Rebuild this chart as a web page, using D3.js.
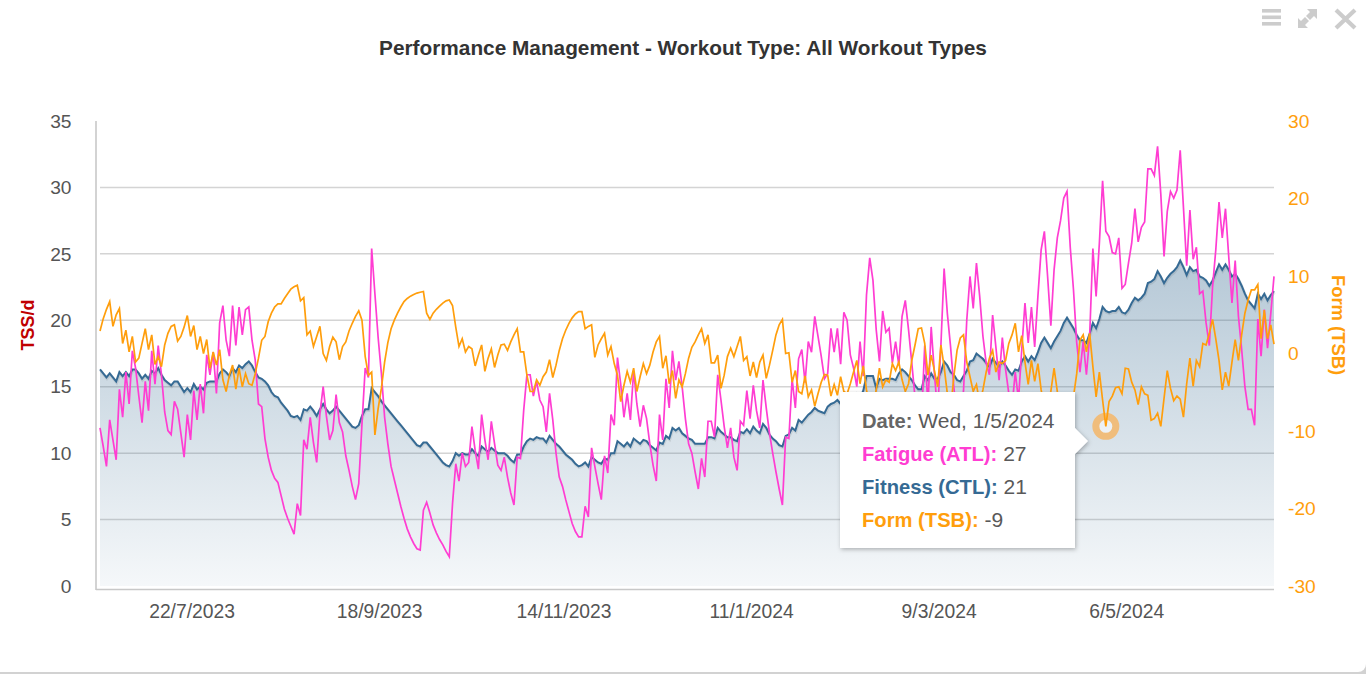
<!DOCTYPE html>
<html>
<head>
<meta charset="utf-8">
<title>Performance Management</title>
<script src="https://cdnjs.cloudflare.com/ajax/libs/d3/7.8.5/d3.min.js"></script>
<style>
  html, body { margin: 0; padding: 0; background: #d2d2d2; overflow: hidden; }
  svg { display: block; font-family: "Liberation Sans", Arial, sans-serif; }
  .domain { display: none; }
  .tick line { display: none; }
</style>
</head>
<body>
<div id="chart"></div>
<script>
// values, one per day
var firstDay = new Date(2023, 5, 24);
var tickDates = [[2023, 6, 22], [2023, 8, 18], [2023, 10, 14], [2024, 0, 11], [2024, 2, 9], [2024, 4, 6]];
var tssTicks = [0, 5, 10, 15, 20, 25, 30, 35];
var formTicks = [-30, -20, -10, 0, 10, 20, 30];

var fatigue = [
  11.9,10.5,9.0,12.5,11,9.5,14.8,12.7,16.1,13.7,
  17.7,16.4,14.3,12.3,15.4,13.2,17.7,15.2,18.1,15.9,
  13.1,11.7,11.4,13.9,13.3,11.5,9.7,12.9,11.0,14.7,
  12.5,15.2,13,17.4,15.9,17.6,14.5,19.8,21.1,18.5,
  17.3,21.1,18.1,21,18.9,20.8,21,18.5,17,13.7,
  13.5,11.1,9.7,8.7,8.1,7.8,6.8,5.8,5.1,4.5,
  3.9,6.2,5.3,11,10.3,12.7,10.8,9.3,13,15,
  12.8,11,11.7,14.4,12.3,11.6,9.8,8.7,7.5,6.5,
  7.7,12.2,16.4,15.7,25.4,22,18.7,16,12.7,10.7,
  9,8,7,6,5.1,4.3,3.7,3.2,2.8,2.7,
  5.7,6.3,5.5,4.6,4,3.5,3.1,2.6,2.2,6.2,
  9.2,7.9,10,9,9.3,12,10.2,8.8,12.9,11,
  9.5,12.4,10.7,9.1,8.7,9.7,8.2,7,6.1,9.7,
  9.6,13.2,15.9,15.9,14.3,15.4,14,13.5,11.6,14.5,
  12.5,10,8.2,7.5,6.5,5.6,4.7,4.1,3.7,3.7,
  6,5.2,10.4,9,7.7,6.5,9.8,8.5,12.9,12.1,
  17.2,15.2,12.7,14.5,12.5,16.2,13.7,12,13.6,12.6,
  10.7,9.1,7.9,12.9,11,15.6,13.4,17.7,15.5,16.9,
  15,12.6,10.7,10,8.6,7.3,9.6,8.2,12.4,12.4,
  11.2,15.9,14,12,10.4,11.9,9.7,8.7,12.4,12.1,
  14.7,12.6,15.1,13.2,11.9,15.5,13.4,11.5,10,8.6,
  7.3,6.1,11.2,11.1,15.6,13.4,17.1,17.8,15.3,18.4,
  17.6,20.3,18.8,17.3,15.6,16,19.4,17.6,19.4,16.7,
  20.6,20,17.4,16.4,15,18.4,15.8,21.9,24.7,23,
  19.3,16.9,20.7,19.1,19.4,16.8,18.4,16.6,20.3,21.5,
  19.3,16.8,14.2,12,12.5,18.1,13.5,19.5,16,13,
  18.1,23.9,20.5,18,15,12.5,12.5,14.7,20,23.3,
  20.9,24.3,21.8,18.8,16.8,15.9,20.4,18,15.5,18.7,
  16.3,14.5,13.5,16.1,14,17.8,21.3,18.3,21,18,
  21.8,25.3,26.7,23.3,19.6,23.8,26.2,27.5,29.2,29.7,
  25.5,22.3,18.3,16.1,18.4,15.9,18.8,25.4,21.8,25.8,
  30.5,26.7,26.3,25.1,25,26.2,22.4,22.7,24.3,25.8,
  28.4,25.9,27,27.4,31.4,31.4,30.9,33.1,29.5,24.8,
  28.2,29.7,29.2,29.8,32.8,28.5,24.1,28.3,24.6,25.5,
  22,22.2,19.8,18.1,22.5,25.3,28.9,26.2,28.4,24.8,
  21.3,24.5,20.3,17.8,15,13.3,13.3,12.1,20.1,17.3,
  20.8,17.9,20.5,23.3
];

var fitness = [
  16.3,16,15.7,16,15.7,15.4,16.1,15.8,16.1,15.8,
  16.3,16.3,16,15.6,15.9,15.6,16.2,16,16.4,15.9,
  15.5,15.3,15.1,15.4,15.4,15,14.6,14.9,14.6,15.2,
  14.8,15,14.8,15.3,15.4,15.4,15.4,16,16.3,16.1,
  15.8,16.4,16.1,16.6,16.4,16.7,16.9,16.6,16.1,15.7,
  15.6,15.4,15.1,14.6,14.3,14.2,13.8,13.5,13.2,12.8,
  12.7,12.8,12.5,13.3,13.2,13.5,13.2,12.8,13.3,13.7,
  13.3,13,13.2,13.5,13.2,12.9,12.6,12.3,12,11.9,
  12.1,12.8,13.3,13.3,14.9,14.6,14.3,13.9,13.6,13.3,
  13,12.7,12.4,12.1,11.8,11.5,11.2,10.9,10.6,10.5,
  10.8,10.8,10.5,10.2,9.9,9.6,9.3,9.1,9,9.4,
  10,9.8,10,9.9,9.9,10.3,10,9.8,10.5,10.3,
  10.1,10.4,10.2,10,10,10,9.8,9.5,9.3,9.9,
  9.9,10.5,10.9,11.1,11,11.2,11.1,11.1,10.8,11.3,
  11,10.7,10.5,10.2,9.9,9.7,9.5,9.2,9,9.1,
  9.3,9,9.7,9.5,9.3,9.2,9.6,9.5,10,10,
  10.9,10.7,10.5,10.8,10.5,11.1,10.9,10.7,11,10.9,
  10.6,10.4,10.2,10.8,10.7,11.3,11.1,11.9,11.7,11.9,
  11.5,11.3,11.1,11,10.7,10.7,10.7,10.7,11.2,11.2,
  11.1,11.9,11.6,11.4,11.2,11.2,11,10.9,11.6,11.5,
  11.8,11.5,12,11.7,11.5,12.2,11.9,11.4,11.1,10.9,
  10.6,10.5,11.3,11.4,11.9,11.7,12.5,12.3,12.6,12.9,
  13.1,13.4,13.2,13.1,13,13.5,13.7,13.8,14,13.7,
  14,14.1,13.9,14.2,14.5,14.2,14.7,15.8,15.8,15.8,
  14.9,15.6,15.5,15.6,15.6,15.6,15.5,16,16.3,16.1,
  15.8,15.5,15.1,14.8,14.8,15.8,15.5,16,15.6,15.6,
  16.1,16.9,16.6,16.1,15.9,15.5,15.4,15.8,16.2,16.9,
  17,17.5,17.3,17.1,16.8,16.5,17.1,16.8,16.5,16.9,
  16.6,16.2,15.9,16.3,16.2,16.9,17.3,16.9,17.3,17,
  17.6,18.3,18.7,18.3,17.9,18.4,18.8,19.2,19.8,20.2,
  19.8,19.4,18.9,18.5,18.5,18.3,19,19.8,19.4,20.1,
  21,20.7,20.6,20.7,20.7,21,20.6,20.5,20.8,21.3,
  21.7,21.5,21.7,22,22.8,22.9,23.1,23.7,23.3,22.8,
  23.2,23.5,23.7,24,24.5,24,23.4,24,23.7,23.8,
  23.3,23.2,23,22.6,23,23.6,24.2,23.8,24.2,23.8,
  23.3,23.5,23.1,22.6,22,21.5,21.2,20.9,22,21.6,
  22,21.5,21.9,22.2
];

var form = [
  2.9,4.5,5.7,6.7,3.5,5,5.8,1.3,3,0.2,
  2.2,-1.1,-0.6,1.3,3.2,0.5,2.4,-1.4,-0.4,-1.7,
  1.1,2.6,3.5,3.7,1.6,2.2,3.4,4.9,2.2,3.6,
  0.5,2.2,0,1.8,-1.9,0.2,-1.5,0.5,-3.4,-4.9,
  -2.8,-1.5,-4.6,-1.9,-4.3,-2.6,-3.9,-4.1,-2.6,-0.6,
  1.7,2.2,4.1,5.2,6,6.4,6.4,7.1,7.7,8.3,
  8.6,8.8,6.8,7.2,2.4,2.9,0.9,2.2,3.5,0,
  -0.9,0.9,2.1,1.5,-0.8,0.9,1.5,2.9,3.9,4.8,
  5.5,4.3,-0.4,-2.8,-2.4,-10.5,-7.1,-4.5,-1.1,1.4,
  3.2,4.3,5.2,6,6.7,7.1,7.4,7.6,7.8,7.9,
  8,5.2,4.4,5.2,5.7,6.1,6.5,6.8,6.9,6.2,
  3.4,0.9,1.9,0.2,0.9,0.6,-1.6,-0.2,1.1,-2.3,
  -0.6,0.6,-1.8,-0.2,1.1,1.2,0.4,1.5,2.4,3.2,
  0.2,0.2,-2.8,-4.9,-4.9,-3.4,-4.1,-3,-2.4,-0.8,
  -3.1,-1.5,0.4,1.9,3,3.9,4.6,5.1,5.4,5.4,
  3.2,3.5,3.7,-0.5,1.1,1.9,2.6,-0.2,0.9,-1.3,
  -2.8,-6.2,-4.1,-2.3,-3.7,-1.9,-4.9,-3,-1.3,-2.6,
  -1.5,0.2,1.5,2.2,-1.9,-0.3,-3.9,-2.2,-5.8,-3.4,
  -4.3,-2.6,-0.6,0.8,1.5,2.4,3.2,1.3,2.4,-1.2,
  -1.2,-0.2,-4.5,-2.8,-0.4,0.7,-0.4,0.9,2.2,-0.9,
  -0.4,-2.9,-1.1,-3.1,-1.1,-0.2,-3.2,-1.5,0.4,2.4,
  3.7,4.4,0,0.1,-3.7,-2.2,-4.9,-5.2,-2.9,-5.6,
  -4.7,-6.8,-5.2,-3.7,-2.7,-2.8,-5.5,-4,-5.4,-3,
  -4.9,-5.2,-3.9,-2.4,-0.9,-3.9,-1.6,-4.7,-6.9,-6.9,
  -4.7,-1.9,-4.3,-3.4,-3.7,-1.3,-2.2,-1.1,-3.4,-4.9,
  -3.9,-0.9,1.1,3.2,3.3,1.3,-2.8,-0.2,-2.2,-4.3,
  1.1,-1.7,-5.2,-7.3,-3,0.4,2,2.4,-1.1,-3,
  -4.9,-4,-6.4,-4.7,-2.4,-0.6,0.4,-2.4,-1.1,-1.3,
  -0.9,1.3,2.4,3.9,0.2,2.3,-1.1,-4,-0.9,-3.6,
  -1.3,-4.7,-6.9,-6.9,-4.9,-1.9,-4.9,-7.3,-8.6,-9.5,
  -8.2,-5.6,-2.6,1.7,2.4,0.2,2.6,-1.7,-5.6,-2.4,
  -6,-9.4,-6.2,-5.5,-4.4,-4.3,-5.2,-1.9,-2,-3.7,
  -4.7,-6.6,-4.3,-5.2,-5.4,-8.6,-8.4,-7.7,-9.4,-5.8,
  -2.2,-4.5,-6.1,-5.5,-5.9,-8.2,-3.9,-0.6,-4.2,-0.9,
  -1.7,1.3,1.1,2.6,4.4,1.9,-0.9,-4.7,-2.4,-4.2,
  -1.1,1.8,-0.9,2.4,5.2,6.9,8.2,8.2,8.9,1.9,
  5.6,1.9,3.7,1.2
];

var hoverIndex = 311;
var tipRows = [
  { label: "Date:", value: " Wed, 1/5/2024", color: "#666666" },
  { label: "Fatigue (ATL):", value: " 27", color: "#ff3dd2" },
  { label: "Fitness (CTL):", value: " 21", color: "#356a94" },
  { label: "Form (TSB):", value: " -9", color: "#ff9e0c" }
];

var w = 1366;
var h = 674;
var plotLeft = 100, plotRight = 1274, plotTop = 121, plotBottom = 586;

var dates = fatigue.map(function(d, i) {
    return new Date(firstDay.getFullYear(), firstDay.getMonth(), firstDay.getDate() + i);
});

var x = d3.scaleTime().domain([dates[0], dates[dates.length - 1]]).range([plotLeft, plotRight]);
var yTss = d3.scaleLinear().domain([0, 35]).range([plotBottom, plotTop]);
var yForm = d3.scaleLinear().domain([-30, 30]).range([plotBottom, plotTop]);

var svg = d3.select("#chart").append("svg")
    .attr("width", w)
    .attr("height", h);

var defs = svg.append("defs");
var grad = defs.append("linearGradient")
    .attr("id", "ctlFill")
    .attr("x1", 0).attr("y1", 0).attr("x2", 0).attr("y2", 1);
grad.append("stop").attr("offset", "0%").attr("stop-color", "#34688f").attr("stop-opacity", 0.36);
grad.append("stop").attr("offset", "100%").attr("stop-color", "#34688f").attr("stop-opacity", 0.05);

var blur = defs.append("filter").attr("id", "tipShadow")
    .attr("x", "-10%").attr("y", "-10%").attr("width", "120%").attr("height", "120%");
blur.append("feDropShadow")
    .attr("dx", 1).attr("dy", 1.5).attr("stdDeviation", 2)
    .attr("flood-color", "#000").attr("flood-opacity", 0.28);

// card
svg.append("rect")
    .attr("x", -10).attr("y", -10)
    .attr("width", w + 10).attr("height", h + 8)
    .attr("rx", 8)
    .attr("fill", "#fff");

// title
svg.append("text")
    .attr("x", 683).attr("y", 55)
    .attr("text-anchor", "middle")
    .attr("font-size", "20.8px")
    .attr("font-weight", "bold")
    .attr("fill", "#333")
    .text("Performance Management - Workout Type: All Workout Types");

// top right icons
var icons = svg.append("g").attr("fill", "#cccccc").attr("stroke", "none");
[9, 15.5, 22].forEach(function(d) {
    icons.append("rect").attr("x", 1262).attr("y", d).attr("width", 19).attr("height", 3.6);
});
icons.append("path").attr("d", "M1317,9 L1317,19 L1314,16 L1310,20 L1306,16 L1310,12 L1307,9 Z");
icons.append("path").attr("d", "M1298,28 L1298,18 L1301,21 L1305,17 L1309,21 L1305,25 L1308,28 Z");
icons.append("path").attr("d", "M1336,10 L1355,28 M1355,10 L1336,28")
    .attr("stroke", "#cccccc").attr("stroke-width", 4.2).attr("fill", "none");

// grid
svg.append("g").selectAll("line")
    .data(tssTicks.filter(function(d) { return d > 0 && d < 35; }))
    .enter()
    .append("line")
    .attr("x1", plotLeft).attr("x2", plotRight)
    .attr("y1", function(d) { return yTss(d); })
    .attr("y2", function(d) { return yTss(d); })
    .attr("stroke", "#d4d4d4")
    .attr("stroke-width", 1.5);

// axis lines
svg.append("line").attr("x1", 96).attr("x2", 96).attr("y1", plotTop).attr("y2", 590)
    .attr("stroke", "#c8c8c8").attr("stroke-width", 1.6);
svg.append("line").attr("x1", 96).attr("x2", plotRight).attr("y1", 589.5).attr("y2", 589.5)
    .attr("stroke", "#c8c8c8").attr("stroke-width", 1.6);

// axes
var axisLeft = d3.axisLeft(yTss).tickValues(tssTicks).tickSize(0).tickPadding(0);
var gLeft = svg.append("g").attr("transform", "translate(71.5,0)").call(axisLeft);
gLeft.selectAll("text").attr("font-size", "19.2px").attr("font-family", "inherit").attr("fill", "#555");

var axisRight = d3.axisRight(yForm).tickValues(formTicks).tickSize(0).tickPadding(0).tickFormat(String);
var gRight = svg.append("g").attr("transform", "translate(1288,0)").call(axisRight);
gRight.selectAll("text").attr("font-size", "19.2px").attr("font-family", "inherit").attr("fill", "#ff9e0c");

var axisBottom = d3.axisBottom(x)
    .tickValues(tickDates.map(function(d) { return new Date(d[0], d[1], d[2]); }))
    .tickSize(0).tickPadding(0)
    .tickFormat(function(d) {
        return d.getDate() + "/" + (d.getMonth() + 1) + "/" + d.getFullYear();
    });
var gBottom = svg.append("g").attr("transform", "translate(1,604)").call(axisBottom);
gBottom.selectAll("text").attr("font-size", "19.3px").attr("font-family", "inherit").attr("fill", "#555");

// axis titles
svg.append("text")
    .attr("transform", "translate(33.5,325) rotate(-90)")
    .attr("text-anchor", "middle")
    .attr("font-size", "18px").attr("font-weight", "bold").attr("fill", "#c00000")
    .text("TSS/d");
svg.append("text")
    .attr("transform", "translate(1332,325) rotate(90)")
    .attr("text-anchor", "middle")
    .attr("font-size", "18.4px").attr("font-weight", "bold").attr("fill", "#ff9e0c")
    .text("Form (TSB)");

// fitness area
var area = d3.area()
    .x(function(d, i) { return x(dates[i]); })
    .y0(plotBottom)
    .y1(function(d) { return yTss(d); });
svg.append("path").datum(fitness)
    .attr("d", area)
    .attr("fill", "url(#ctlFill)");

// hover ring
svg.append("circle")
    .attr("cx", x(dates[hoverIndex]))
    .attr("cy", yForm(form[hoverIndex]))
    .attr("r", 10)
    .attr("fill", "#fff")
    .attr("fill-opacity", 0.55)
    .attr("stroke", "#f0bd7c")
    .attr("stroke-width", 7);

var lineTss = d3.line()
    .x(function(d, i) { return x(dates[i]); })
    .y(function(d) { return yTss(d); });
var lineForm = d3.line()
    .x(function(d, i) { return x(dates[i]); })
    .y(function(d) { return yForm(d); });

// line shadow on fitness
svg.append("path").datum(fitness)
    .attr("d", lineTss)
    .attr("transform", "translate(0.5,1.2)")
    .attr("fill", "none")
    .attr("stroke", "#000")
    .attr("stroke-opacity", 0.08)
    .attr("stroke-width", 3);
svg.append("path").datum(fitness)
    .attr("d", lineTss)
    .attr("fill", "none")
    .attr("stroke", "#356a94")
    .attr("stroke-width", 2);

svg.append("path").datum(fatigue)
    .attr("d", lineTss)
    .attr("fill", "none")
    .attr("stroke", "#ff3dd2")
    .attr("stroke-width", 1.7);

svg.append("path").datum(form)
    .attr("d", lineForm)
    .attr("fill", "none")
    .attr("stroke", "#ff9e0c")
    .attr("stroke-width", 1.7);

// tooltip
var tip = svg.append("g");
tip.append("path")
    .attr("d", "M840,392 L1075,392 L1075,428 L1088,441 L1075,454 L1075,548 L840,548 Z")
    .attr("fill", "#fff")
    .attr("filter", "url(#tipShadow)");
var rows = tip.selectAll("text")
    .data(tipRows)
    .enter()
    .append("text")
    .attr("x", 862)
    .attr("y", function(d, i) { return 428 + i * 33; })
    .attr("font-size", "21px")
    .attr("fill", "#595959");
rows.append("tspan")
    .attr("font-weight", "bold")
    .attr("font-size", "20.2px")
    .attr("fill", function(d) { return d.color; })
    .text(function(d) { return d.label; });
rows.append("tspan")
    .attr("xml:space", "preserve")
    .text(function(d) { return d.value; });
</script>
</body>
</html>
